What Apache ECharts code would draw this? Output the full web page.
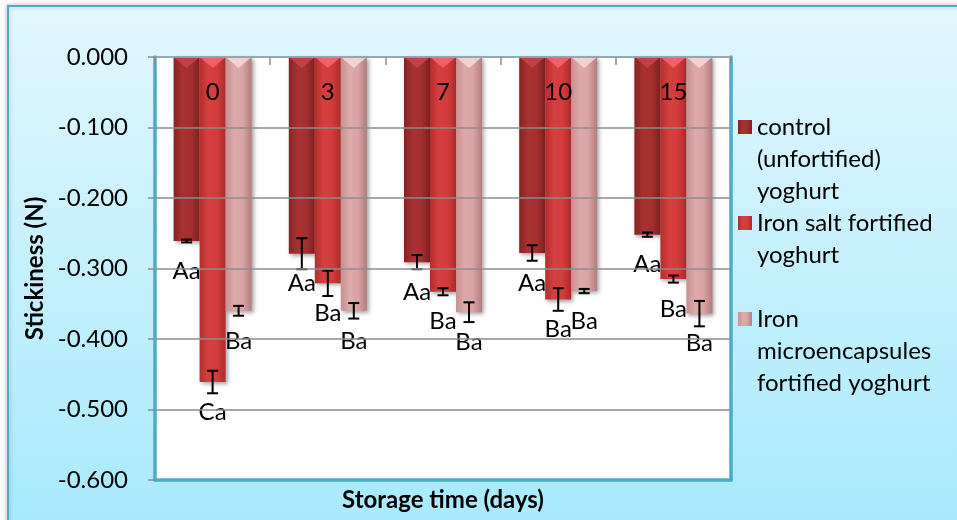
<!DOCTYPE html>
<html>
<head>
<meta charset="utf-8">
<script src="https://cdn.jsdelivr.net/npm/echarts@6/dist/echarts.min.js"></script>
<style>
  html, body { margin: 0; padding: 0; background: #ffffff; }
  #chart { width: 957px; height: 520px; }
</style>
</head>
<body>
<div id="chart"></div>
<script>
// Storage days on the category axis
const categories = ['0', '3', '7', '10', '15'];

// Series names and how each one wraps in the legend
const seriesNames = [
  'control (unfortified) yoghurt',
  'Iron salt fortified yoghurt',
  'Iron microencapsules fortified yoghurt'
];
const legendLines = [
  ['control', '(unfortified)', 'yoghurt'],
  ['Iron salt fortified', 'yoghurt'],
  ['Iron', 'microencapsules', 'fortified yoghurt']
];

// Stickiness (N), mean values
const controlValues = [-0.261, -0.279, -0.291, -0.278, -0.252];
const ironSaltValues = [-0.461, -0.321, -0.333, -0.344, -0.315];
const microValues = [-0.360, -0.360, -0.362, -0.332, -0.364];

// Standard deviations
const controlErrors = [0.002, 0.022, 0.010, 0.011, 0.003];
const ironSaltErrors = [0.016, 0.018, 0.005, 0.016, 0.005];
const microErrors = [0.007, 0.011, 0.014, 0.003, 0.018];

// Significance letters under each bar
const controlLetters = ['Aa', 'Aa', 'Aa', 'Aa', 'Aa'];
const ironSaltLetters = ['Ca', 'Ba', 'Ba', 'Ba', 'Ba'];
const microLetters = ['Ba', 'Ba', 'Ba', 'Ba', 'Ba'];

// Value axis range and step
const yMin = -0.6;
const yMax = 0;
const yStep = 0.1;

const valueSets = [controlValues, ironSaltValues, microValues];
const errorSets = [controlErrors, ironSaltErrors, microErrors];
const letterSets = [controlLetters, ironSaltLetters, microLetters];

const FONT = 'Lato, "Open Sans", sans-serif';
const BAR_W = 26;
const LINE_H = 32;

function hGrad(stops) {
  return {
    type: 'linear', x: 0, y: 0, x2: 1, y2: 0,
    colorStops: stops.map((c, i) => ({ offset: i / (stops.length - 1), color: c }))
  };
}

const barFills = [
  hGrad(['#862323', '#a93131', '#a52f2f', '#7e2020']),
  hGrad(['#b32d2d', '#d63f3f', '#d23c3c', '#ad2b2b']),
  hGrad(['#c89090', '#dea9a9', '#d9a3a3', '#b47c7c'])
];
const bevelFills = ['#c54646', '#ef6a6a', '#f6d9d9'];

const chart = echarts.init(document.getElementById('chart'), null, { renderer: 'canvas' });

const barSeries = seriesNames.map((name, s) => ({
  name: name,
  type: 'bar',
  xAxisIndex: 0,
  yAxisIndex: 0,
  data: valueSets[s],
  barWidth: BAR_W,
  barGap: '0%',
  itemStyle: {
    color: barFills[s],
    shadowColor: 'rgba(0,0,0,0.35)',
    shadowBlur: 4,
    shadowOffsetX: 2,
    shadowOffsetY: 2
  },
  label: {
    show: true,
    position: 'bottom',
    distance: 18,
    color: '#000',
    fontFamily: FONT,
    fontSize: 24,
    formatter: (p) => letterSets[s][p.dataIndex]
  },
  z: 2
}));

// Bevel highlight on the top edge of every bar
const bevelData = [];
valueSets.forEach((vals, s) => vals.forEach((v, i) => bevelData.push([i, 0, s])));

// Error bars: [category, mean, sd, series]
const errorData = [];
valueSets.forEach((vals, s) => vals.forEach((v, i) => errorData.push([i, v, errorSets[s][i], s])));

// Legend text is centred on its marker, so blank lines above the wrapped
// name put the first line level with the marker.
function legendText(name) {
  const lines = legendLines[seriesNames.indexOf(name)];
  return '\n'.repeat(lines.length - 1) + lines.join('\n');
}

const option = {
  animation: false,
  backgroundColor: '#ffffff',
  textStyle: { fontFamily: FONT },
  graphic: [{
    type: 'rect',
    z: -100,
    shape: { x: 8, y: 6, width: 980, height: 540 },
    style: {
      fill: {
        type: 'linear', x: 0, y: 0, x2: 0, y2: 1,
        colorStops: [
          { offset: 0, color: '#e2f7fe' },
          { offset: 1, color: '#a5e9fc' }
        ]
      },
      stroke: '#4bacc6',
      lineWidth: 2,
      shadowBlur: 5,
      shadowColor: 'rgba(0,0,0,0.25)'
    }
  }],
  grid: {
    left: 155, right: 226, top: 57, bottom: 40,
    show: true, backgroundColor: '#ffffff', borderWidth: 0
  },
  legend: {
    orient: 'vertical',
    left: 738,
    top: 47,
    padding: 0,
    itemGap: -LINE_H,
    itemWidth: 14,
    itemHeight: 14,
    icon: 'rect',
    selectedMode: false,
    textStyle: { fontFamily: FONT, fontSize: 24, color: '#000', lineHeight: LINE_H },
    formatter: legendText,
    data: seriesNames
  },
  xAxis: [{
    type: 'category',
    data: categories,
    position: 'top',
    z: 10,
    axisLine: { onZero: false, lineStyle: { color: '#8fa8b8', width: 1.5 } },
    axisTick: { show: true, inside: true, length: 8, lineStyle: { color: '#8c8c8c', width: 1.5 } },
    axisLabel: { inside: true, margin: 23, color: '#000', fontFamily: FONT, fontSize: 24 },
    splitLine: { show: false }
  }, {
    type: 'category',
    data: categories,
    position: 'bottom',
    z: 10,
    axisLine: { onZero: false, lineStyle: { color: '#4bacc6', width: 3.5 } },
    axisTick: { show: false },
    axisLabel: { show: false },
    name: 'Storage time (days)',
    nameLocation: 'middle',
    nameGap: 8,
    nameTextStyle: { color: '#000', fontFamily: FONT, fontSize: 24, fontWeight: 'bold' }
  }],
  yAxis: [{
    type: 'value',
    min: yMin,
    max: yMax,
    interval: yStep,
    position: 'left',
    z: 10,
    name: 'Stickiness (N)',
    nameLocation: 'middle',
    nameGap: 101,
    nameTextStyle: { color: '#000', fontFamily: FONT, fontSize: 24, fontWeight: 'bold' },
    axisLine: { show: true, onZero: false, lineStyle: { color: '#4bacc6', width: 3.5 } },
    axisTick: { show: true, length: 7, lineStyle: { color: '#8c8c8c', width: 1.5 } },
    axisLabel: {
      margin: 27, color: '#000', fontFamily: FONT, fontSize: 24,
      formatter: (v) => v.toFixed(3)
    },
    splitLine: { show: true, lineStyle: { color: '#8c8c8c', width: 1.5 } }
  }, {
    type: 'value',
    min: yMin,
    max: yMax,
    interval: yStep,
    position: 'right',
    z: 10,
    axisLine: { show: true, onZero: false, lineStyle: { color: '#4bacc6', width: 3.5 } },
    axisTick: { show: false },
    axisLabel: { show: false },
    splitLine: { show: false }
  }],
  series: barSeries.concat([{
    type: 'custom',
    name: 'bevel',
    xAxisIndex: 0,
    yAxisIndex: 0,
    data: bevelData,
    encode: { x: 0, y: 1 },
    silent: true,
    z: 3,
    renderItem: (params, api) => {
      const cat = api.value(0);
      const s = api.value(2);
      const base = api.coord([cat, 0]);
      const cx = base[0] + (s - 1) * BAR_W;
      const x0 = cx - BAR_W / 2;
      const x1 = cx + BAR_W / 2;
      const y0 = base[1];
      return {
        type: 'polygon',
        shape: { points: [[x0, y0], [x1, y0], [cx, y0 + 11]] },
        style: { fill: bevelFills[s], opacity: 0.85 }
      };
    }
  }, {
    type: 'custom',
    name: 'error',
    xAxisIndex: 0,
    yAxisIndex: 0,
    data: errorData,
    encode: { x: 0, y: 1 },
    silent: true,
    z: 4,
    renderItem: (params, api) => {
      const cat = api.value(0);
      const v = api.value(1);
      const e = api.value(2);
      const s = api.value(3);
      const cx = api.coord([cat, 0])[0] + (s - 1) * BAR_W;
      const yHi = api.coord([cat, v + e])[1];
      const yLo = api.coord([cat, v - e])[1];
      const cap = 5.5;
      const st = { stroke: '#000', lineWidth: 2 };
      return {
        type: 'group',
        children: [
          { type: 'line', shape: { x1: cx, y1: yHi, x2: cx, y2: yLo }, style: st },
          { type: 'line', shape: { x1: cx - cap, y1: yHi, x2: cx + cap, y2: yHi }, style: st },
          { type: 'line', shape: { x1: cx - cap, y1: yLo, x2: cx + cap, y2: yLo }, style: st }
        ]
      };
    }
  }])
};

chart.setOption(option);
</script>
</body>
</html>
